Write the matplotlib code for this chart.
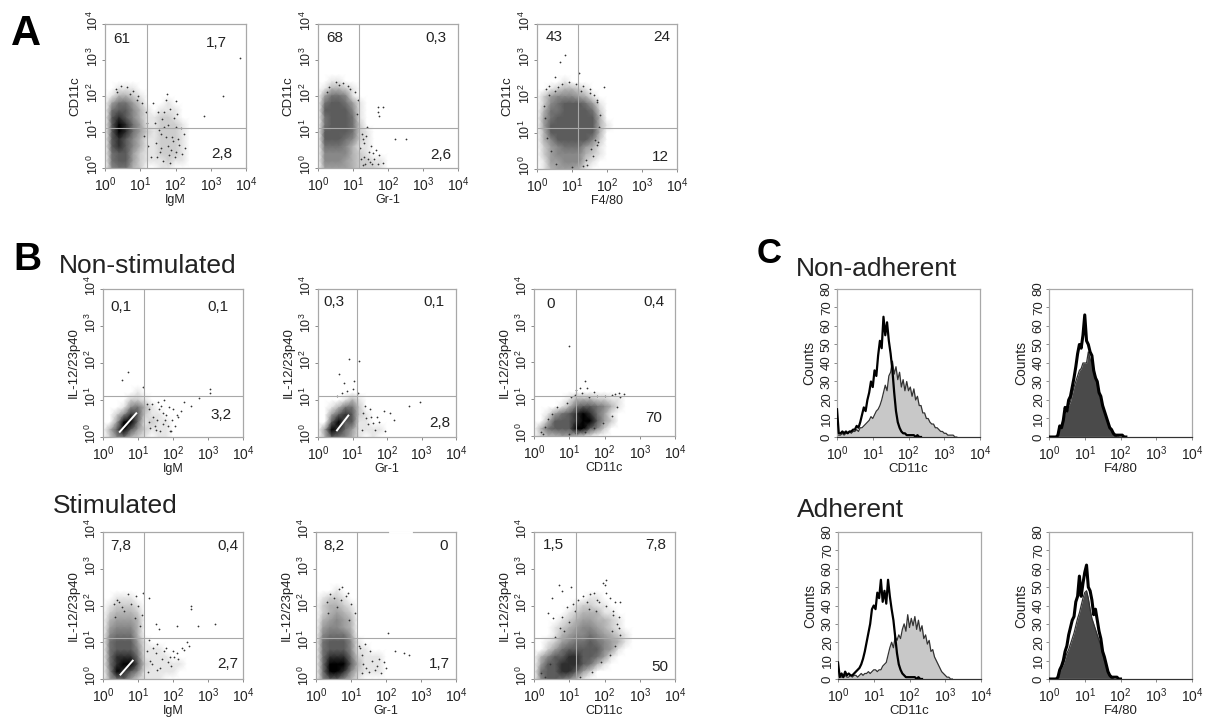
#!/usr/bin/env python3
"""
flow cytometry figure, panels A, B and C
density grids are darkness read off the picture, digit 0-9 per cell
"""

import numpy as np
import matplotlib
matplotlib.use('Agg')
import matplotlib.pyplot as plt
from matplotlib.colors import LinearSegmentedColormap
from matplotlib.ticker import LogLocator, LogFormatterMathtext, NullLocator
from matplotlib.transforms import ScaledTranslation

plt.rcParams['font.family'] = ['Liberation Sans', 'DejaVu Sans']
plt.rcParams['mathtext.default'] = 'regular'

WIDTH, HEIGHT = 1208, 720
GATE_GRAY = '#a8a8a8'
TEXT_DARK = '#222222'

# grid nodes in decades, columns 0.0 .. 3.0 and rows 2.6 .. 0.0
grid_x = [0.0, 0.2, 0.4, 0.6, 0.8, 1.0, 1.2, 1.4, 1.6, 1.8, 2.0, 2.2, 2.4, 2.6, 2.8, 3.0]
grid_y = [2.6, 2.4, 2.2, 2.0, 1.8, 1.6, 1.4, 1.2, 1.0, 0.8, 0.6, 0.4, 0.2, 0.0]

a_igm = ['0000000000000000', '0000000000000000', '0011100000000000', '0133210000000000',
         '0466420001000000', '0677531011100000', '0787531122100000', '0798641122210000',
         '0798642122210000', '0787531122210000', '0787531122210000', '0677421122210000',
         '0677421112110000', '0566320011000000']
a_gr1 = ['0000000000000000', '0011000000000000', '0133210000000000', '0466510000000000',
         '0677641000000000', '0777751000000000', '0677761000000000', '0677762000000000',
         '0777762100000000', '0777652100000000', '0666531100000000', '0555532100000000',
         '0555432211000000', '0444432221000000']
a_f480 = ['0000000000000000', '0000100000000000', '0012332100000000', '0245554310000000',
          '0256777641000000', '0366777762000000', '0467777773000000', '0477777773100000',
          '0377777773000000', '0357777752000000', '0245666431000000', '0245555321000000',
          '0144555210000000', '0134443100000000']
ns_igm = ['0000000000000000', '0000000000000000', '0000000000000000', '0000000000000000',
          '0000000000000000', '0000000000000000', '0000000000000000', '0000010000000000',
          '0000221000000000', '0001563100000000', '0025872110000000', '0049961211000000',
          '0379742111000000', '0256321011000000']
ns_gr1 = ['0000000000000000', '0000000000000000', '0000000000000000', '0000000000000000',
          '0000000000000000', '0000000000000000', '0000000000000000', '0000000000000000',
          '0000131000000000', '0013662000000000', '0047872100000000', '0079771100000000',
          '0498641111000000', '0376531010000000']
ns_cd11c = ['0000000000000000', '0000000000000000', '0000000000000000', '0000000000000000',
            '0000000000000000', '0000000000000000', '0000000000000000', '0000000000000000',
            '0000013332211000', '0000136776531000', '0014678986410000', '0037778997420000',
            '0367779975200000', '0233443210000000']
st_igm = ['0000000000000000', '0000000000000000', '0011100000000000', '0122210000000000',
          '0233320000000000', '0344430000000000', '0455530000000000', '0566630000000000',
          '0677741000000000', '0677751110000000', '0688861111000000', '0689972111110000',
          '0598751111100000', '0467421110000000']
st_gr1 = ['0000000000000000', '0001000000000000', '0122100000000000', '0233210000000000',
          '0234320000000000', '0345430000000000', '0455430000000000', '0566640000000000',
          '0677751000000000', '0677751100000000', '0688862111000000', '0699973111000000',
          '0699852111000000', '0577531000000000']
st_cd11c = ['0000000000000000', '0000000000000000', '0000000011000000', '0000001221100000',
            '0000012333110000', '0000123443321000', '0001234554321000', '0001345565432100',
            '0012456676543100', '0024677777541000', '0357788776410000', '0477888763100000',
            '0677887420000000', '0577653100000000']

# single events outside the dense part, log10 values
a_igm_x = [3.82, 3.35, 2.82, 1.35, 1.5, 1.62, 1.72, 1.85, 1.95, 2.05, 1.45, 1.58, 1.78, 1.9, 2.1, 2.25, 1.68, 1.82,
           1.98, 1.55, 1.75, 2.0, 1.42, 1.52, 1.66, 1.8, 1.92, 2.02, 2.15, 2.28, 1.6, 1.72, 1.88, 2.08, 1.48, 1.65,
           1.85, 2.0, 2.18, 0.3, 0.45, 0.62, 0.8, 0.95, 1.05, 1.15, 1.2, 1.1, 1.22, 1.3, 0.35, 0.72, 0.9]
a_igm_y = [3.05, 2.0, 1.45, 1.8, 1.55, 1.35, 1.9, 1.65, 1.4, 1.5, 0.7, 0.95, 0.6, 0.85, 0.65, 0.95, 1.15, 0.35,
           0.3, 0.45, 2.05, 1.85, 1.25, 1.05, 1.55, 1.2, 0.75, 1.15, 1.1, 0.55, 0.55, 0.85, 0.5, 0.8, 0.3, 0.2,
           0.15, 0.45, 0.4, 2.2, 2.28, 2.25, 2.15, 2.0, 1.8, 1.55, 1.25, 0.9, 0.6, 0.3, 2.1, 2.05, 1.9]
a_gr1_x = [1.7, 1.7, 1.85, 1.75, 2.2, 2.5, 1.3, 1.45, 1.6, 1.75, 1.85, 1.4, 1.55, 1.25, 1.2, 1.3, 1.35, 1.5, 1.65,
           1.42, 1.58, 1.22, 1.28, 0.3, 0.5, 0.7, 0.9, 1.05, 1.15, 1.1, 0.25, 0.6, 0.85, 1.38, 1.48, 1.72, 1.28]
a_gr1_y = [1.7, 1.55, 1.7, 1.45, 0.8, 0.8, 0.7, 0.45, 0.25, 0.35, 0.15, 1.15, 0.1, 0.95, 0.55, 0.3, 0.12, 0.6,
           0.5, 0.25, 0.42, 0.25, 0.8, 2.25, 2.38, 2.35, 2.2, 2.1, 1.9, 1.5, 2.1, 2.3, 2.28, 0.88, 0.18, 0.12, 0.08]
a_f480_x = [0.8, 0.65, 0.5, 1.2, 1.9, 1.75, 1.7, 0.25, 0.35, 0.5, 0.7, 0.9, 1.1, 1.3, 1.5, 1.62, 1.72, 1.8, 1.78, 1.65,
            1.55, 1.4, 1.3, 0.2, 0.22, 0.28, 0.4, 0.55, 1.0, 1.42, 1.6, 1.7, 0.35, 0.6, 1.25, 1.5]
a_f480_y = [3.15, 2.95, 2.55, 2.65, 2.25, 0.75, 1.9, 2.2, 2.3, 2.15, 2.35, 2.4, 2.35, 2.3, 2.2, 2.05, 1.85, 1.5, 1.15,
            0.8, 0.55, 0.25, 0.08, 1.75, 1.4, 0.85, 0.5, 0.15, 0.05, 0.1, 0.35, 0.65, 2.05, 2.25, 2.15, 2.1]
ns_igm_x = [0.7, 0.55, 1.15, 1.4, 1.6, 1.8, 2.0, 2.3, 2.5, 2.75, 3.05, 3.05, 1.5, 1.7, 1.9, 2.15, 1.75, 1.32, 1.42,
            1.55, 1.65, 1.78, 1.88, 1.98, 2.1, 2.22, 1.35, 1.48, 1.62, 1.85, 2.05, 1.25, 1.3, 1.72, 1.58, 1.95]
ns_igm_y = [1.75, 1.55, 1.35, 0.9, 0.75, 0.6, 0.75, 0.95, 0.85, 1.05, 1.3, 1.2, 0.2, 0.35, 0.15, 0.55, 1.0, 0.75,
            0.55, 0.45, 0.85, 0.45, 0.8, 0.45, 0.6, 0.7, 0.25, 0.3, 0.15, 0.3, 0.3, 0.9, 0.4, 0.65, 0.95, 0.15]
ns_gr1_x = [1.2, 0.9, 0.6, 1.05, 0.75, 1.5, 1.7, 1.9, 2.1, 2.2, 2.65, 2.95, 1.45, 1.65, 1.95, 1.3, 1.4, 1.55, 1.28,
            1.78, 1.35, 1.6, 0.85, 1.0, 1.15, 0.55, 0.7]
ns_gr1_y = [2.05, 2.1, 1.7, 1.5, 1.45, 0.75, 0.55, 0.7, 0.65, 0.45, 0.85, 0.95, 0.35, 0.2, 0.15, 0.65, 0.5, 0.55,
            0.2, 0.4, 0.85, 0.38, 1.25, 1.3, 1.2, 1.1, 1.2]
ns_cd11c_x = [1.0, 1.45, 1.3, 1.2, 1.5, 1.7, 2.3, 2.55, 0.95, 1.05, 1.15, 1.35, 1.55, 1.8, 2.0, 2.2, 2.4, 2.45, 0.2,
              0.3, 0.25, 0.4, 0.5, 0.65, 1.0, 1.2, 1.45, 1.7, 1.95, 2.2, 2.35]
ns_cd11c_y = [2.45, 1.5, 1.3, 1.25, 1.3, 1.2, 1.15, 1.15, 0.9, 1.05, 1.12, 1.18, 1.05, 1.08, 1.1, 1.12, 1.18, 1.05,
              0.1, 0.25, 0.05, 0.45, 0.6, 0.8, 0.05, 0.08, 0.12, 0.22, 0.35, 0.55, 0.8]
st_igm_x = [0.45, 0.7, 0.95, 1.15, 1.3, 2.5, 2.5, 2.1, 2.7, 3.2, 1.5, 1.6, 1.75, 1.9, 2.1, 2.25, 2.4, 1.4, 1.55, 1.95,
            1.3, 1.42, 1.55, 1.68, 1.8, 2.0, 2.15, 2.3, 2.45, 1.35, 1.5, 1.62, 1.85, 2.02, 1.25, 1.28, 0.3, 0.4, 0.55,
            0.8, 1.0, 1.1, 0.35, 0.6, 0.9, 1.05]
st_igm_y = [2.1, 2.3, 2.25, 2.35, 2.2, 1.98, 1.9, 1.45, 1.45, 1.5, 1.5, 1.35, 0.75, 0.6, 0.7, 0.85, 1.0, 0.4, 0.25,
            0.35, 1.05, 0.85, 0.95, 0.55, 0.85, 0.75, 0.55, 0.8, 0.9, 0.5, 0.7, 0.3, 0.45, 0.6, 0.75, 0.2, 2.05, 2.15,
            1.95, 2.05, 2.0, 1.75, 1.7, 1.85, 1.65, 1.45]
st_gr1_x = [0.4, 0.65, 0.75, 0.9, 2.05, 2.25, 2.5, 2.65, 1.4, 1.6, 1.75, 1.95, 2.0, 1.5, 1.25, 1.3, 1.35, 1.42, 1.55,
            1.68, 1.8, 1.3, 1.85, 1.22, 0.3, 0.5, 0.7, 0.85, 1.0, 1.1, 0.35, 0.6, 0.95]
st_gr1_y = [2.3, 2.45, 2.5, 2.35, 1.25, 0.75, 0.7, 0.65, 0.95, 0.5, 0.35, 0.45, 0.3, 0.2, 0.85, 0.65, 0.4, 0.3, 0.75,
            0.25, 0.55, 0.15, 0.15, 0.9, 2.1, 2.2, 2.15, 2.25, 2.05, 1.8, 1.8, 1.95, 1.6]
st_cd11c_x = [0.5, 0.7, 0.8, 1.05, 0.4, 0.55, 1.95, 2.0, 2.05, 2.05, 2.15, 2.3, 2.45, 1.7, 1.8, 2.25, 2.4, 1.5, 2.35,
              2.2, 0.8, 0.95, 1.1, 1.25, 1.4, 1.6, 1.85, 2.05, 2.25, 2.4, 2.45, 2.3, 0.6, 0.75, 0.85, 1.0, 1.15, 0.2,
              0.3, 0.45, 1.3, 1.65, 1.9, 2.15, 1.55, 1.75]
st_cd11c_y = [2.2, 2.55, 2.4, 2.5, 1.8, 1.65, 2.6, 2.55, 2.7, 2.35, 2.2, 2.1, 2.1, 2.35, 2.15, 1.85, 1.7, 2.1, 1.5,
              1.3, 1.7, 1.95, 2.05, 2.15, 2.25, 2.3, 2.1, 2.0, 1.75, 1.4, 1.2, 0.9, 1.15, 1.4, 1.3, 1.55, 1.85, 0.15,
              0.05, 0.4, 0.05, 0.2, 0.45, 0.65, 1.9, 1.85]

# white saturated core of the densest contour, log10 values
ns_igm_core_x = [0.48, 0.95]
ns_igm_core_y = [0.14, 0.64]
ns_gr1_core_x = [0.55, 0.88]
ns_gr1_core_y = [0.18, 0.58]
st_igm_core_x = [0.5, 0.85]
st_igm_core_y = [0.12, 0.5]

x_labels = ['IgM', 'Gr-1', 'F4/80', 'IgM', 'Gr-1', 'CD11c', 'IgM', 'Gr-1', 'CD11c']
y_labels = ['CD11c'] * 3 + ['IL-12/23p40'] * 6
quad_labels = [['61', '1,7', '2,8'], ['68', '0,3', '2,6'], ['43', '24', '12'],
               ['0,1', '0,1', '3,2'], ['0,3', '0,1', '2,8'], ['0', '0,4', '70'],
               ['7,8', '0,4', '2,7'], ['8,2', '0', '1,7'], ['1,5', '7,8', '50']]
gate_x = [1.18, 1.17, 1.17, 1.17, 1.13, 1.18, 1.17, 1.18, 1.18]
gate_y = [1.10, 1.10, 1.14, 1.12, 1.12, 1.10, 1.11, 1.11, 1.11]

# histogram counts, one value every 0.05 decade from 10^0
hist_decades = [round(i * 0.05, 2) for i in range(73)]
nonadh_cd11c_iso = [15, 2, 2, 3, 2, 3, 2, 3, 3, 4, 4, 6, 5, 8, 12, 16, 14, 20, 24, 30, 27, 36, 33, 44, 52, 48,
                    65, 55, 62, 52, 45, 36, 24, 14, 8, 5, 3, 2, 2, 1, 1, 1, 1, 1, 0, 1, 0, 0]
nonadh_cd11c_fill = [1, 1, 1, 2, 1, 2, 2, 3, 2, 3, 3, 4, 3, 5, 5, 6, 7, 8, 9, 11, 10, 12, 14, 15, 17, 20, 24,
                     28, 25, 33, 35, 41, 34, 38, 31, 35, 27, 31, 25, 30, 25, 27, 22, 26, 20, 22, 17, 17, 13,
                     13, 10, 10, 8, 7, 7, 5, 5, 4, 3, 3, 2, 2, 1, 1, 1, 1, 0, 0]
nonadh_f480_iso = [0, 0, 0, 0, 0, 1, 6, 5, 9, 16, 14, 20, 22, 27, 32, 38, 45, 50, 48, 55, 66, 52, 50, 46, 44, 36, 32,
                   30, 24, 22, 17, 14, 11, 8, 5, 4, 2, 1, 1, 1, 1, 1, 0, 0]
nonadh_f480_fill = [0, 0, 0, 0, 0, 1, 5, 6, 9, 13, 14, 17, 19, 23, 27, 30, 33, 36, 37, 40, 40, 40, 46, 42, 40, 35, 33,
                    28, 25, 21, 17, 14, 11, 8, 5, 3, 1, 1, 0, 0]
adh_cd11c_iso = [9, 1, 3, 1, 4, 2, 3, 2, 2, 3, 4, 5, 6, 8, 11, 15, 20, 25, 30, 38, 40, 38, 47, 44, 54, 42, 48, 41,
                 54, 45, 38, 32, 23, 14, 8, 5, 3, 2, 1, 1, 1, 1, 1, 1, 0, 1, 0, 0]
adh_cd11c_fill = [1, 2, 1, 1, 2, 1, 1, 2, 1, 2, 2, 1, 2, 3, 2, 3, 3, 4, 3, 4, 5, 5, 4, 5, 5, 7, 8, 9, 13, 17,
                  20, 17, 23, 21, 24, 22, 27, 30, 26, 35, 28, 33, 29, 34, 27, 32, 26, 29, 22, 24, 19, 21,
                  15, 16, 12, 10, 8, 6, 4, 3, 2, 1, 1, 0, 0]
adh_f480_iso = [0, 0, 0, 0, 0, 1, 5, 7, 10, 15, 18, 24, 28, 32, 34, 42, 45, 56, 45, 52, 58, 62, 50, 48, 43, 35,
                38, 32, 26, 22, 15, 12, 8, 4, 2, 1, 1, 1, 1, 0, 0]
adh_f480_fill = [0, 0, 0, 0, 0, 1, 4, 6, 8, 11, 14, 16, 19, 22, 25, 29, 33, 36, 40, 44, 47, 48, 44, 38, 33, 30,
                 27, 24, 21, 18, 14, 10, 7, 4, 2, 1, 0]

hist_counts = [0, 10, 20, 30, 40, 50, 60, 70, 80]
hist_xlabels = ['CD11c', 'F4/80', 'CD11c', 'F4/80']
hist_fill_colors = ['#c8c8c8', '#4a4a4a', '#c8c8c8', '#4a4a4a']
hist_line_widths = [1.6, 2.2, 1.6, 2.2]

# pixel boxes left, top, right, bottom
dot_boxes = [(105, 24, 246, 168), (318, 24, 458, 168), (537, 24, 677, 169),
             (103, 289, 243, 437), (318, 289, 456, 437), (534, 289, 675, 436),
             (103, 532, 243, 679), (316, 532, 456, 679), (534, 532, 675, 679)]
hist_boxes = [(837, 289, 980, 437), (1049, 289, 1192, 437),
              (838, 532, 981, 679), (1049, 532, 1192, 679)]
quad_positions = [[(.12, .895), (.79, .87), (.83, .10)], [(.12, .90), (.84, .90), (.875, .09)],
                  [(.12, .91), (.89, .91), (.88, .085)], [(.13, .88), (.82, .88), (.84, .15)],
                  [(.115, .91), (.84, .91), (.88, .095)], [(.115, .90), (.85, .91), (.85, .12)],
                  [(.13, .905), (.89, .905), (.89, .10)], [(.13, .905), (.91, .905), (.88, .10)],
                  [(.14, .91), (.86, .91), (.89, .08)]]

darkness = LinearSegmentedColormap.from_list(
    'darkness', [(0.0, '#ffffff'), (0.33, '#b4b4b4'), (0.78, '#5c5c5c'), (1.0, '#000000')])


def style_log_axis(axis) -> None:
    """
    decades only, no minor ticks
    """
    axis.set_major_locator(LogLocator(base=10, numticks=5))
    axis.set_major_formatter(LogFormatterMathtext())
    axis.set_minor_locator(NullLocator())


def rotate_y_labels(ax: plt.Axes, lift: float = 0.0) -> None:
    """
    the y tick labels stand on their side, lift is in pixels
    """
    ax.tick_params(axis='y', labelrotation=90)
    shift = ScaledTranslation(0, lift / 100, ax.figure.dpi_scale_trans)
    for label in ax.get_yticklabels():
        label.set_verticalalignment('center')
        label.set_transform(label.get_transform() + shift)


def pixel_axes(fig: plt.Figure, box: tuple) -> plt.Axes:
    """
    axes from a pixel box, y counted from the top
    """
    left, top, right, bottom = box
    ax = fig.add_axes([left / WIDTH, 1 - bottom / HEIGHT,
                       (right - left) / WIDTH, (bottom - top) / HEIGHT])
    for spine in ax.spines.values():
        spine.set_color(GATE_GRAY)
        spine.set_linewidth(0.9)
    ax.set_xscale('log')
    ax.set_xlim(1, 1e4)
    style_log_axis(ax.xaxis)
    ax.tick_params(axis='x', length=2, width=0.6, color='#777777', pad=3,
                   labelsize=10, labelcolor=TEXT_DARK)
    ax.tick_params(axis='y', length=2, width=0.6, color='#777777', pad=1,
                   labelsize=9, labelcolor=TEXT_DARK)
    return ax


def draw_dot_plot(fig: plt.Figure, index: int, grid: list, dots_x: list, dots_y: list,
                  core_x: list = None, core_y: list = None) -> plt.Axes:
    """
    one density plot with its quadrant gates and percentages
    """
    ax = pixel_axes(fig, dot_boxes[index])
    ax.set_yscale('log')
    ax.set_ylim(1, 1e4)
    style_log_axis(ax.yaxis)
    rotate_y_labels(ax, lift=3)

    values = np.array([[int(c) for c in row] for row in grid], dtype=float)
    mesh_x, mesh_y = np.meshgrid(10.0 ** np.array(grid_x), 10.0 ** np.array(grid_y))
    ax.pcolormesh(mesh_x, mesh_y, values, shading='gouraud', cmap=darkness,
                  vmin=0, vmax=9, rasterized=True, zorder=1)
    ax.scatter(10.0 ** np.array(dots_x), 10.0 ** np.array(dots_y), s=1.6,
               color='#333333', linewidths=0, zorder=2)
    if core_x is not None:
        ax.plot(10.0 ** np.array(core_x), 10.0 ** np.array(core_y), color='white',
                lw=1.4, zorder=3)

    ax.axvline(10 ** gate_x[index], color=GATE_GRAY, lw=0.8, zorder=4)
    ax.axhline(10 ** gate_y[index], color=GATE_GRAY, lw=0.8, zorder=4)
    for text, (frac_x, frac_y) in zip(quad_labels[index], quad_positions[index]):
        ax.text(frac_x, frac_y, text, transform=ax.transAxes, ha='center', va='center',
                fontsize=11, color=TEXT_DARK, zorder=5)
    ax.set_xlabel(x_labels[index], fontsize=9, color=TEXT_DARK, labelpad=0)
    ax.set_ylabel(y_labels[index], fontsize=9.5, color=TEXT_DARK, labelpad=3)
    return ax


def draw_histogram(fig: plt.Figure, index: int, iso: list, fill: list) -> plt.Axes:
    """
    one overlay histogram, filled stain and isotype outline
    """
    ax = pixel_axes(fig, hist_boxes[index])
    ax.set_ylim(0, 80)
    ax.set_yticks(hist_counts)
    ax.tick_params(axis='y', labelsize=9.5)
    rotate_y_labels(ax)
    fill_x = 10.0 ** np.array(hist_decades[:len(fill)])
    iso_x = 10.0 ** np.array(hist_decades[:len(iso)])
    ax.fill_between(fill_x, 0, fill, color=hist_fill_colors[index], lw=0, zorder=1)
    ax.plot(fill_x, fill, color='#333333', lw=0.9, zorder=2)
    ax.plot(iso_x, iso, color='black', lw=hist_line_widths[index], zorder=3)
    ax.axhline(0, color='#333333', lw=0.8, zorder=3, clip_on=False)
    ax.set_xlabel(hist_xlabels[index], fontsize=9.5, color=TEXT_DARK, labelpad=0)
    ax.set_ylabel('Counts', fontsize=10, color=TEXT_DARK, labelpad=3)
    return ax


def page_text(fig: plt.Figure, x: float, y: float, text: str, **kwargs) -> None:
    """
    text placed by pixel, y of the baseline from the top
    """
    fig.text(x / WIDTH, 1 - y / HEIGHT, text, ha='left', va='baseline', **kwargs)


def main() -> None:
    """
    build the whole figure
    """
    fig = plt.figure(figsize=(WIDTH / 100, HEIGHT / 100), dpi=100, facecolor='white')

    draw_dot_plot(fig, 0, a_igm, a_igm_x, a_igm_y)
    draw_dot_plot(fig, 1, a_gr1, a_gr1_x, a_gr1_y)
    draw_dot_plot(fig, 2, a_f480, a_f480_x, a_f480_y)
    draw_dot_plot(fig, 3, ns_igm, ns_igm_x, ns_igm_y, ns_igm_core_x, ns_igm_core_y)
    draw_dot_plot(fig, 4, ns_gr1, ns_gr1_x, ns_gr1_y, ns_gr1_core_x, ns_gr1_core_y)
    draw_dot_plot(fig, 5, ns_cd11c, ns_cd11c_x, ns_cd11c_y)
    draw_dot_plot(fig, 6, st_igm, st_igm_x, st_igm_y, st_igm_core_x, st_igm_core_y)
    gr1_ax = draw_dot_plot(fig, 7, st_gr1, st_gr1_x, st_gr1_y)
    draw_dot_plot(fig, 8, st_cd11c, st_cd11c_x, st_cd11c_y)

    # the reference has a gap in the top frame of this one panel
    gr1_ax.plot([0.53, 0.68], [1, 1], color='white', lw=2, transform=gr1_ax.transAxes,
                clip_on=False, zorder=6)

    draw_histogram(fig, 0, nonadh_cd11c_iso, nonadh_cd11c_fill)
    draw_histogram(fig, 1, nonadh_f480_iso, nonadh_f480_fill)
    draw_histogram(fig, 2, adh_cd11c_iso, adh_cd11c_fill)
    draw_histogram(fig, 3, adh_f480_iso, adh_f480_fill)

    page_text(fig, 11, 45, 'A', fontsize=30, fontweight='bold', color='black')
    page_text(fig, 13, 270, 'B', fontsize=28, fontweight='bold', color='black')
    page_text(fig, 757, 263, 'C', fontsize=25, fontweight='bold', color='black')
    page_text(fig, 59, 273, 'Non-stimulated', fontsize=19, color=TEXT_DARK)
    page_text(fig, 53, 513, 'Stimulated', fontsize=19, color=TEXT_DARK)
    page_text(fig, 796, 276, 'Non-adherent', fontsize=19, color=TEXT_DARK)
    page_text(fig, 797, 517, 'Adherent', fontsize=19, color=TEXT_DARK)

    fig.savefig('out.png', dpi=100, facecolor='white')
    plt.close(fig)


if __name__ == '__main__':
    main()
